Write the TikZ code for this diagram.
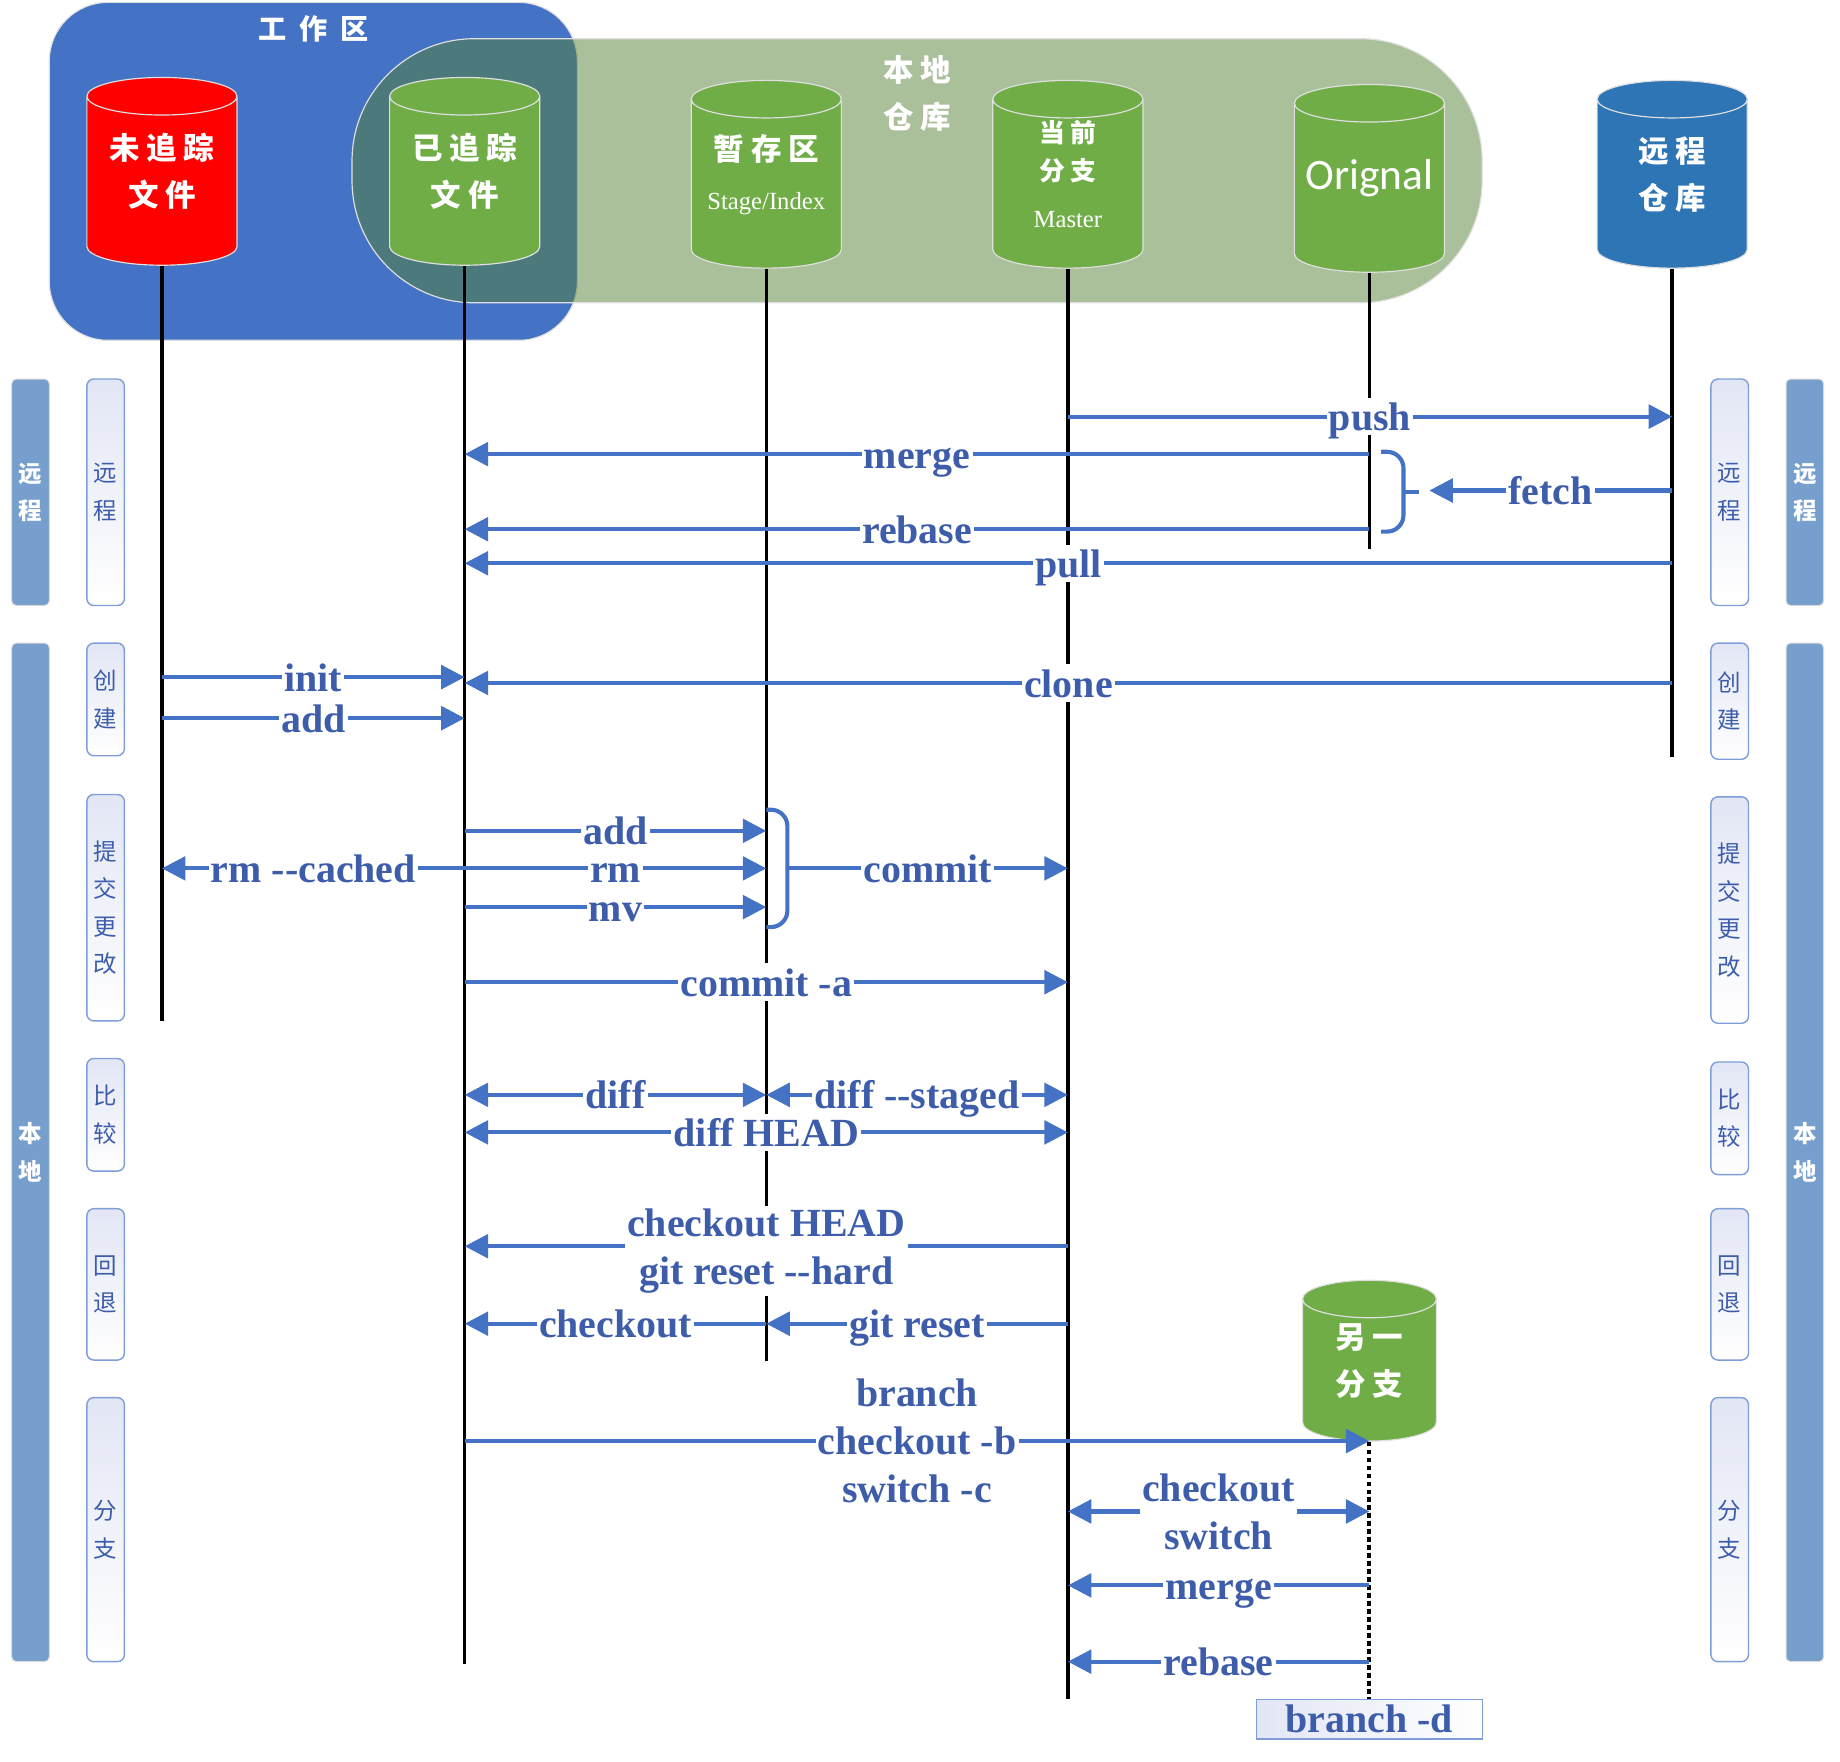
\documentclass[tikz,border=0pt]{standalone}
\usepackage{fontspec}
\setmainfont{Liberation Serif}
\newfontfamily\cjk[LetterSpace=22]{Noto Sans CJK SC}
\newfontfamily\cjkwide[LetterSpace=45]{Noto Sans CJK SC}
\newfontfamily\cjkside{Noto Sans CJK SC}
\newfontfamily\calibri{Carlito}
\usetikzlibrary{shapes.geometric, arrows.meta, positioning}

\definecolor{workblue}{HTML}{4472C4}
\definecolor{localgreen}{HTML}{548235}
\definecolor{repogreen}{HTML}{70AD47}
\definecolor{repoblue}{HTML}{2E75B6}
\definecolor{linkblue}{HTML}{4472C4}
\definecolor{cmdblue}{HTML}{3D5DAB}
\definecolor{bandblue}{HTML}{769FCD}
\definecolor{tagtop}{HTML}{E2E6F5}
\definecolor{tagline}{HTML}{7F9DD6}

\tikzstyle{area} = [rectangle, draw=white!75!gray, line width=0.5pt, inner sep=0pt]
\tikzstyle{areatitle} = [text=white, font=\cjkwide\bfseries\fontsize{12}{20}\selectfont, align=center]
\tikzstyle{repo} = [cylinder, shape border rotate=90, aspect=0.25, text width=64pt, minimum width=64pt, minimum height=80pt, anchor=shape center, draw=white!75!gray, line width=0.5pt, inner sep=0pt]
\tikzstyle{repotext} = [text=white, align=center, inner sep=0pt, font=\cjk\bfseries\fontsize{13}{20}\selectfont]
\tikzstyle{lifeline} = [line width=1.5pt, black]
\tikzstyle{arrow} = [line width=1.75pt, linkblue, ->, >={Triangle[length=10pt,width=10pt]}]
\tikzstyle{brace} = [line width=1.75pt, linkblue, rounded corners=7pt]
\tikzstyle{cmdlines} = [fill=white, text=cmdblue, font=\bfseries\fontsize{17}{20.5}\selectfont, inner xsep=1pt, inner ysep=1pt, align=center]
\tikzstyle{cmd} = [cmdlines, text height=13.5pt, text depth=1.5pt, inner ysep=0.5pt]
\tikzstyle{band} = [rectangle, rounded corners=2pt, fill=bandblue, draw=gray!30, minimum width=16pt, inner sep=0pt, text=white, align=center, font=\cjkside\bfseries\fontsize{10}{16}\selectfont]
\tikzstyle{tag} = [rectangle, rounded corners=3pt, top color=tagtop, bottom color=white, draw=tagline, line width=0.6pt, minimum width=16pt, inner sep=0pt, text=cmdblue, align=center, font=\cjkside\fontsize{10}{16}\selectfont]
\tikzstyle{delbox} = [rectangle, left color=tagtop, right color=white, draw=tagline, line width=0.6pt, minimum width=96.5pt, minimum height=17pt, inner sep=0pt, text=cmdblue, font=\bfseries\fontsize{17}{20.5}\selectfont]

\begin{document}
\begin{tikzpicture}[x=0.5pt, y=-0.5pt]
\useasboundingbox (0,0) rectangle (1568,1501);

% areas
\node (workarea) [area, fill=workblue, rounded corners=25pt, minimum width=225pt, minimum height=144pt] at (267,146) {};
\node (localarea) [area, fill=localgreen, fill opacity=0.5, rounded corners=52pt, minimum width=481.5pt, minimum height=112.5pt] at (781.5,145.5) {};
\node (worktitle) [areatitle] at (267,25) {工作区};
\node (localtitle) [areatitle, font=\cjk\bfseries\fontsize{13}{20}\selectfont] at (782,80) {本地\\仓库};

% repositories
\node (untracked) [repo, fill=red] at (138,146) {};
\node (tracked) [repo, fill=repogreen] at (396,146) {};
\node (stage) [repo, fill=repogreen] at (653,148.5) {};
\node (master) [repo, fill=repogreen] at (910,148.5) {};
\node (orignal) [repo, fill=repogreen] at (1167,152) {};
\node (remote) [repo, fill=repoblue] at (1425,148.5) {};
\node (other) [repo, fill=repogreen, text width=57pt, minimum width=57pt, minimum height=68.5pt, aspect=0.28] at (1167,1159.5) {};

\node (untracked-text) [repotext] at (untracked.shape center) {未追踪\\文件};
\node (tracked-text) [repotext] at (tracked.shape center) {已追踪\\文件};
\node (stage-text) [repotext] at (stage.shape center) {暂存区\\[1pt]{\rmfamily\mdseries\fontsize{10.5}{12}\selectfont Stage/Index}};
\node (master-text) [repotext, font=\cjk\bfseries\fontsize{11}{16}\selectfont] at (master.shape center) {当前\\分支\\[4pt]{\rmfamily\mdseries\fontsize{10.5}{12}\selectfont Master}};
\node (orignal-text) [repotext, font=\calibri\fontsize{18.5}{20}\selectfont] at (orignal.shape center) {Orignal};
\node (remote-text) [repotext] at (remote.shape center) {远程\\仓库};
\node (other-text) [repotext] at (other.shape center) {另一\\分支};
\node (branchd) [delbox] at (1167,1465) {branch -d};

% side bands
\node (remoteL) [band, minimum height=96.5pt] at (26,419.5) {远\\程};
\node (localL) [band, minimum height=434pt] at (26,982) {本\\地};
\node (remoteR) [band, minimum height=96.5pt] at (1538,419.5) {远\\程};
\node (localR) [band, minimum height=434pt] at (1538,982) {本\\地};

\node (tagremoteL) [tag, minimum height=96.5pt] at (90,419.5) {远\\程};
\node (tagcreateL) [tag, minimum height=48pt] at (90,596) {创\\建};
\node (tagcommitL) [tag, minimum height=96.5pt] at (90,773.5) {提\\交\\更\\改};
\node (tagdiffL) [tag, minimum height=48pt] at (90,950) {比\\较};
\node (tagresetL) [tag, minimum height=64.5pt] at (90,1094.5) {回\\退};
\node (tagbranchL) [tag, minimum height=112.5pt] at (90,1303.5) {分\\支};

\node (tagremoteR) [tag, minimum height=96.5pt] at (1474,419.5) {远\\程};
\node (tagcreateR) [tag, minimum height=49.5pt] at (1474,597.5) {创\\建};
\node (tagcommitR) [tag, minimum height=96.5pt] at (1474,775.5) {提\\交\\更\\改};
\node (tagdiffR) [tag, minimum height=48pt] at (1474,953) {比\\较};
\node (tagresetR) [tag, minimum height=64.5pt] at (1474,1094.5) {回\\退};
\node (tagbranchR) [tag, minimum height=112.5pt] at (1474,1303.5) {分\\支};

% lifelines
\coordinate (untracked-end) at (138,870);
\coordinate (tracked-end) at (396,1418);
\coordinate (stage-end) at (653,1160);
\coordinate (master-end) at (910,1448);
\coordinate (orignal-end) at (1167,468);
\coordinate (remote-end) at (1425,645);
\draw [lifeline] (untracked.south) -- (untracked-end);
\draw [lifeline] (tracked.south) -- (tracked-end);
\draw [lifeline] (stage.south) -- (stage-end);
\draw [lifeline] (master.south) -- (master-end);
\draw [lifeline] (orignal.south) -- (orignal-end);
\draw [lifeline] (remote.south) -- (remote-end);
\draw [lifeline, line width=1.7pt, dash pattern=on 2pt off 1.4pt] (other.south) -- (branchd.north);

% rows
\coordinate (push) at (0,355);
\coordinate (merge) at (0,387);
\coordinate (rebase) at (0,451);
\coordinate (pull) at (0,480);
\coordinate (init) at (0,577);
\coordinate (clone) at (0,582);
\coordinate (track) at (0,612);
\coordinate (add) at (0,708);
\coordinate (rm) at (0,740);
\coordinate (mv) at (0,773);
\coordinate (commitall) at (0,837);
\coordinate (diff) at (0,933);
\coordinate (diffhead) at (0,965);
\coordinate (hardreset) at (0,1062);
\coordinate (reset) at (0,1128);
\coordinate (newbranch) at (0,1228);
\coordinate (switch) at (0,1288);
\coordinate (bmerge) at (0,1351);
\coordinate (brebase) at (0,1416);
\coordinate (fetchbrace) at (1218,418);
\coordinate (stagebrace) at (671,740);

% remote
\draw [arrow] (master |- push) -- node[cmd] {push} (remote |- push);
\draw [arrow] (orignal |- merge) -- node[cmd] {merge} (tracked |- merge);
\draw [arrow] (orignal |- rebase) -- node[cmd] {rebase} (tracked |- rebase);
\draw [brace] (1177,385) -| (1196,419) |- (1177,453);
\draw [brace] (1196,419) -- (1209,419);
\draw [arrow] (remote |- fetchbrace) -- node[cmd] {fetch} (fetchbrace);
\draw [arrow] (remote |- pull) -- node[cmd] {pull} (tracked |- pull);

% create
\draw [arrow] (untracked |- init) -- node[cmd] {init} (tracked |- init);
\draw [arrow] (remote |- clone) -- node[cmd] {clone} (tracked |- clone);
\draw [arrow] (untracked |- track) -- node[cmd] {add} (tracked |- track);

% commit
\draw [arrow] (tracked |- add) -- node[cmd] {add} (stage |- add);
\draw [arrow] (tracked |- rm) -- node[cmd] {rm} (stage |- rm);
\draw [arrow] (tracked |- rm) -- node[cmd] {rm -{}-cached} (untracked |- rm);
\draw [arrow] (tracked |- mv) -- node[cmd] {mv} (stage |- mv);
\draw [brace] (653,690) -| (671,740) |- (653,790);
\draw [arrow] (stagebrace) -- node[cmd] {commit} (master |- stagebrace);
\draw [arrow] (tracked |- commitall) -- node[cmd] {commit -a} (master |- commitall);

% diff
\draw [arrow, <->] (tracked |- diff) -- node[cmd] {diff} (stage |- diff);
\draw [arrow, <->] (stage |- diff) -- node[cmd] {diff -{}-staged} (master |- diff);
\draw [arrow, <->] (tracked |- diffhead) -- node[cmd] {diff HEAD} (master |- diffhead);

% reset
\draw [arrow] (master |- hardreset) -- node[cmdlines, yshift=-2pt] {checkout HEAD\\git reset -{}-hard} (tracked |- hardreset);
\draw [arrow] (stage |- reset) -- node[cmd] {checkout} (tracked |- reset);
\draw [arrow] (master |- reset) -- node[cmd] {git reset} (stage |- reset);

% branch
\draw [arrow] (tracked |- newbranch) -- node[cmdlines] {branch\\checkout -b\\switch -c} (other |- newbranch);
\draw [arrow, <->] (master |- switch) -- node[cmdlines] {checkout\\switch} (other |- switch);
\draw [arrow] (other |- bmerge) -- node[cmd] {merge} (master |- bmerge);
\draw [arrow] (other |- brebase) -- node[cmd] {rebase} (master |- brebase);

\end{tikzpicture}
\end{document}
